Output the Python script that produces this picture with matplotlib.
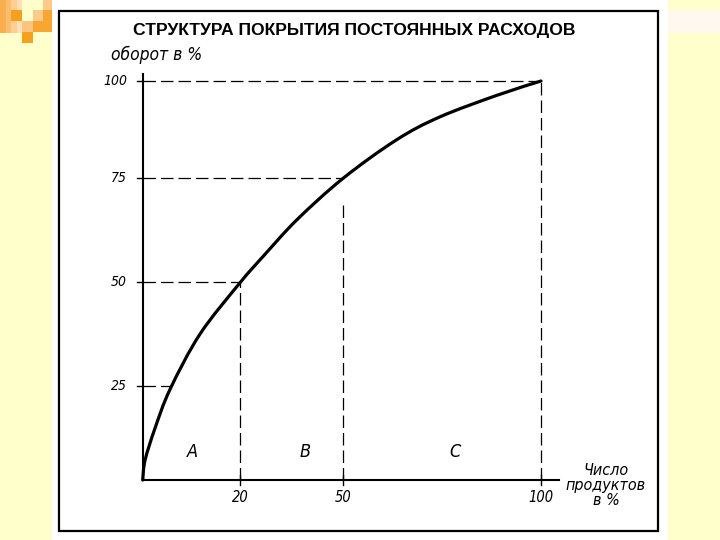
import matplotlib
matplotlib.use('Agg')
import matplotlib.pyplot as plt
from matplotlib.patches import Rectangle, PathPatch
from matplotlib.path import Path

# кривая покрытия (положения по осям)
curve_x = [0, 0.6, 3.1, 6.9, 14.4, 24.4, 30.2, 38.7, 50.3, 63.8, 74.6, 88.9, 100]
curve_y = [0, 5.0, 13.0, 22.8, 36.6, 49.4, 56.0, 65.2, 75.6, 85.3, 91.0, 96.4, 100]

x_tick_pos = [24.4, 50.3, 100]
x_tick_labels = ['20', '50', '100']
y_tick_pos = [23.5, 49.6, 75.6, 100]
y_tick_labels = ['25', '50', '75', '100']

groups = ['A', 'B', 'C']
group_x = [12.6, 40.8, 78.4]

title = 'СТРУКТУРА ПОКРЫТИЯ ПОСТОЯННЫХ РАСХОДОВ'
cream = '#FFFFCC'

fig = plt.figure(figsize=(7.2, 5.4), dpi=100)
fig.patch.set_facecolor(cream)
ax = fig.add_axes([0, 0, 1, 1])
ax.set_xlim(-35.83, 144.94)
ax.set_ylim(-15.04, 120.3)
ax.axis('off')

W, H = 720.0, 540.0
def box(x, y, w, h, **kw):
    # прямоугольник в пикселях картинки (от верхнего левого угла)
    r = Rectangle((x / W, 1 - (y + h) / H), w / W, h / H,
                  transform=ax.transAxes, clip_on=False, **kw)
    ax.add_patch(r)

# фон слайда
box(52, 0, 616, 540, facecolor='white', edgecolor='none', zorder=0)
box(668, 10, 52, 23, facecolor='#FFF8EE', edgecolor='none', zorder=0)
# оранжевые квадратики
for i, c in enumerate(['#FAAE4E', '#FBBE70', '#FCCE92', '#FEE0B4']):
    box(i * 5.5, 0, 5.5, 33, facecolor=c, edgecolor='none', zorder=0)
box(11, 10, 11, 11, facecolor='#F7A01E', edgecolor='none', zorder=0)
box(33, 10, 10, 11, facecolor='#FBCB8A', edgecolor='none', zorder=0)
box(43, 0, 9, 10, facecolor='#FCCB8C', edgecolor='none', zorder=0)
box(43, 10, 9, 11, facecolor='#F9A531', edgecolor='none', zorder=0)
box(22, 21, 11, 11, facecolor='#FBC480', edgecolor='none', zorder=0)
box(33, 21, 19, 11, facecolor='#F9A532', edgecolor='none', zorder=0)
box(22, 32, 11, 11, facecolor='#F7A01E', edgecolor='none', zorder=0)
# рамка
box(59, 11, 599, 520, facecolor='none', edgecolor='black', linewidth=1.6, zorder=1)

# оси
ax.plot([0, 0], [0, 101.8], color='black', lw=1.5)
ax.plot([0, 104.5], [0, 0], color='black', lw=1.5)

# пунктир
dash = dict(color='black', lw=0.9, linestyle=(0, (10, 4)))
ax.plot([0, 100], [100, 100], **dash)
ax.plot([100, 100], [0, 100], **dash)
ax.plot([0, x_tick_pos[1]], [y_tick_pos[2], y_tick_pos[2]], **dash)
ax.plot([x_tick_pos[1], x_tick_pos[1]], [0, 70], **dash)
ax.plot([0, x_tick_pos[0]], [y_tick_pos[1], y_tick_pos[1]], **dash)
ax.plot([x_tick_pos[0], x_tick_pos[0]], [0, y_tick_pos[1]], **dash)
ax.plot([0, 6.8], [y_tick_pos[0], y_tick_pos[0]], **dash)

# гладкая кривая через считанные точки (Catmull-Rom -> Безье)
pts = list(zip(curve_x, curve_y))
verts = [pts[0]]
codes = [Path.MOVETO]
for i in range(len(pts) - 1):
    p0 = pts[max(i - 1, 0)]
    p1 = pts[i]
    p2 = pts[i + 1]
    p3 = pts[min(i + 2, len(pts) - 1)]
    c1 = (p1[0] + (p2[0] - p0[0]) / 6, p1[1] + (p2[1] - p0[1]) / 6)
    c2 = (p2[0] - (p3[0] - p1[0]) / 6, p2[1] - (p3[1] - p1[1]) / 6)
    verts += [c1, c2, p2]
    codes += [Path.CURVE4] * 3
ax.add_patch(PathPatch(Path(verts, codes), facecolor='none', edgecolor='black',
                       lw=2.3, capstyle='round', joinstyle='round', zorder=5))

hand = dict(family='DejaVu Sans', style='italic', stretch='condensed', color='black')
for yp, lab in zip(y_tick_pos, y_tick_labels):
    ax.plot([-1.5, 0], [yp, yp], color='black', lw=1)
    ax.text(-3.9, yp, lab, ha='right', va='center', fontsize=10, **hand)
for xp, lab in zip(x_tick_pos, x_tick_labels):
    ax.plot([xp, xp], [-1.3, 1.3], color='black', lw=1)
    ax.text(xp, -4.3, lab, ha='center', va='center', fontsize=10.5, **hand)
for gx, g in zip(group_x, groups):
    ax.text(gx, 7.0, g, ha='center', va='center', fontsize=13, **hand)

ax.text(3.6, 106.5, 'оборот в %', ha='center', va='center', fontsize=12.5, **hand)
ax.text(116.3, -1.3, 'Число\nпродуктов\nв %', ha='center', va='center',
        fontsize=11.5, linespacing=1.0, **hand)

ax.text(354 / W, 1 - 30 / H, title, transform=ax.transAxes, ha='center', va='center',
        fontsize=12.6, fontweight='bold', family='Liberation Sans')

fig.savefig('out.png', dpi=100, facecolor=fig.get_facecolor())
